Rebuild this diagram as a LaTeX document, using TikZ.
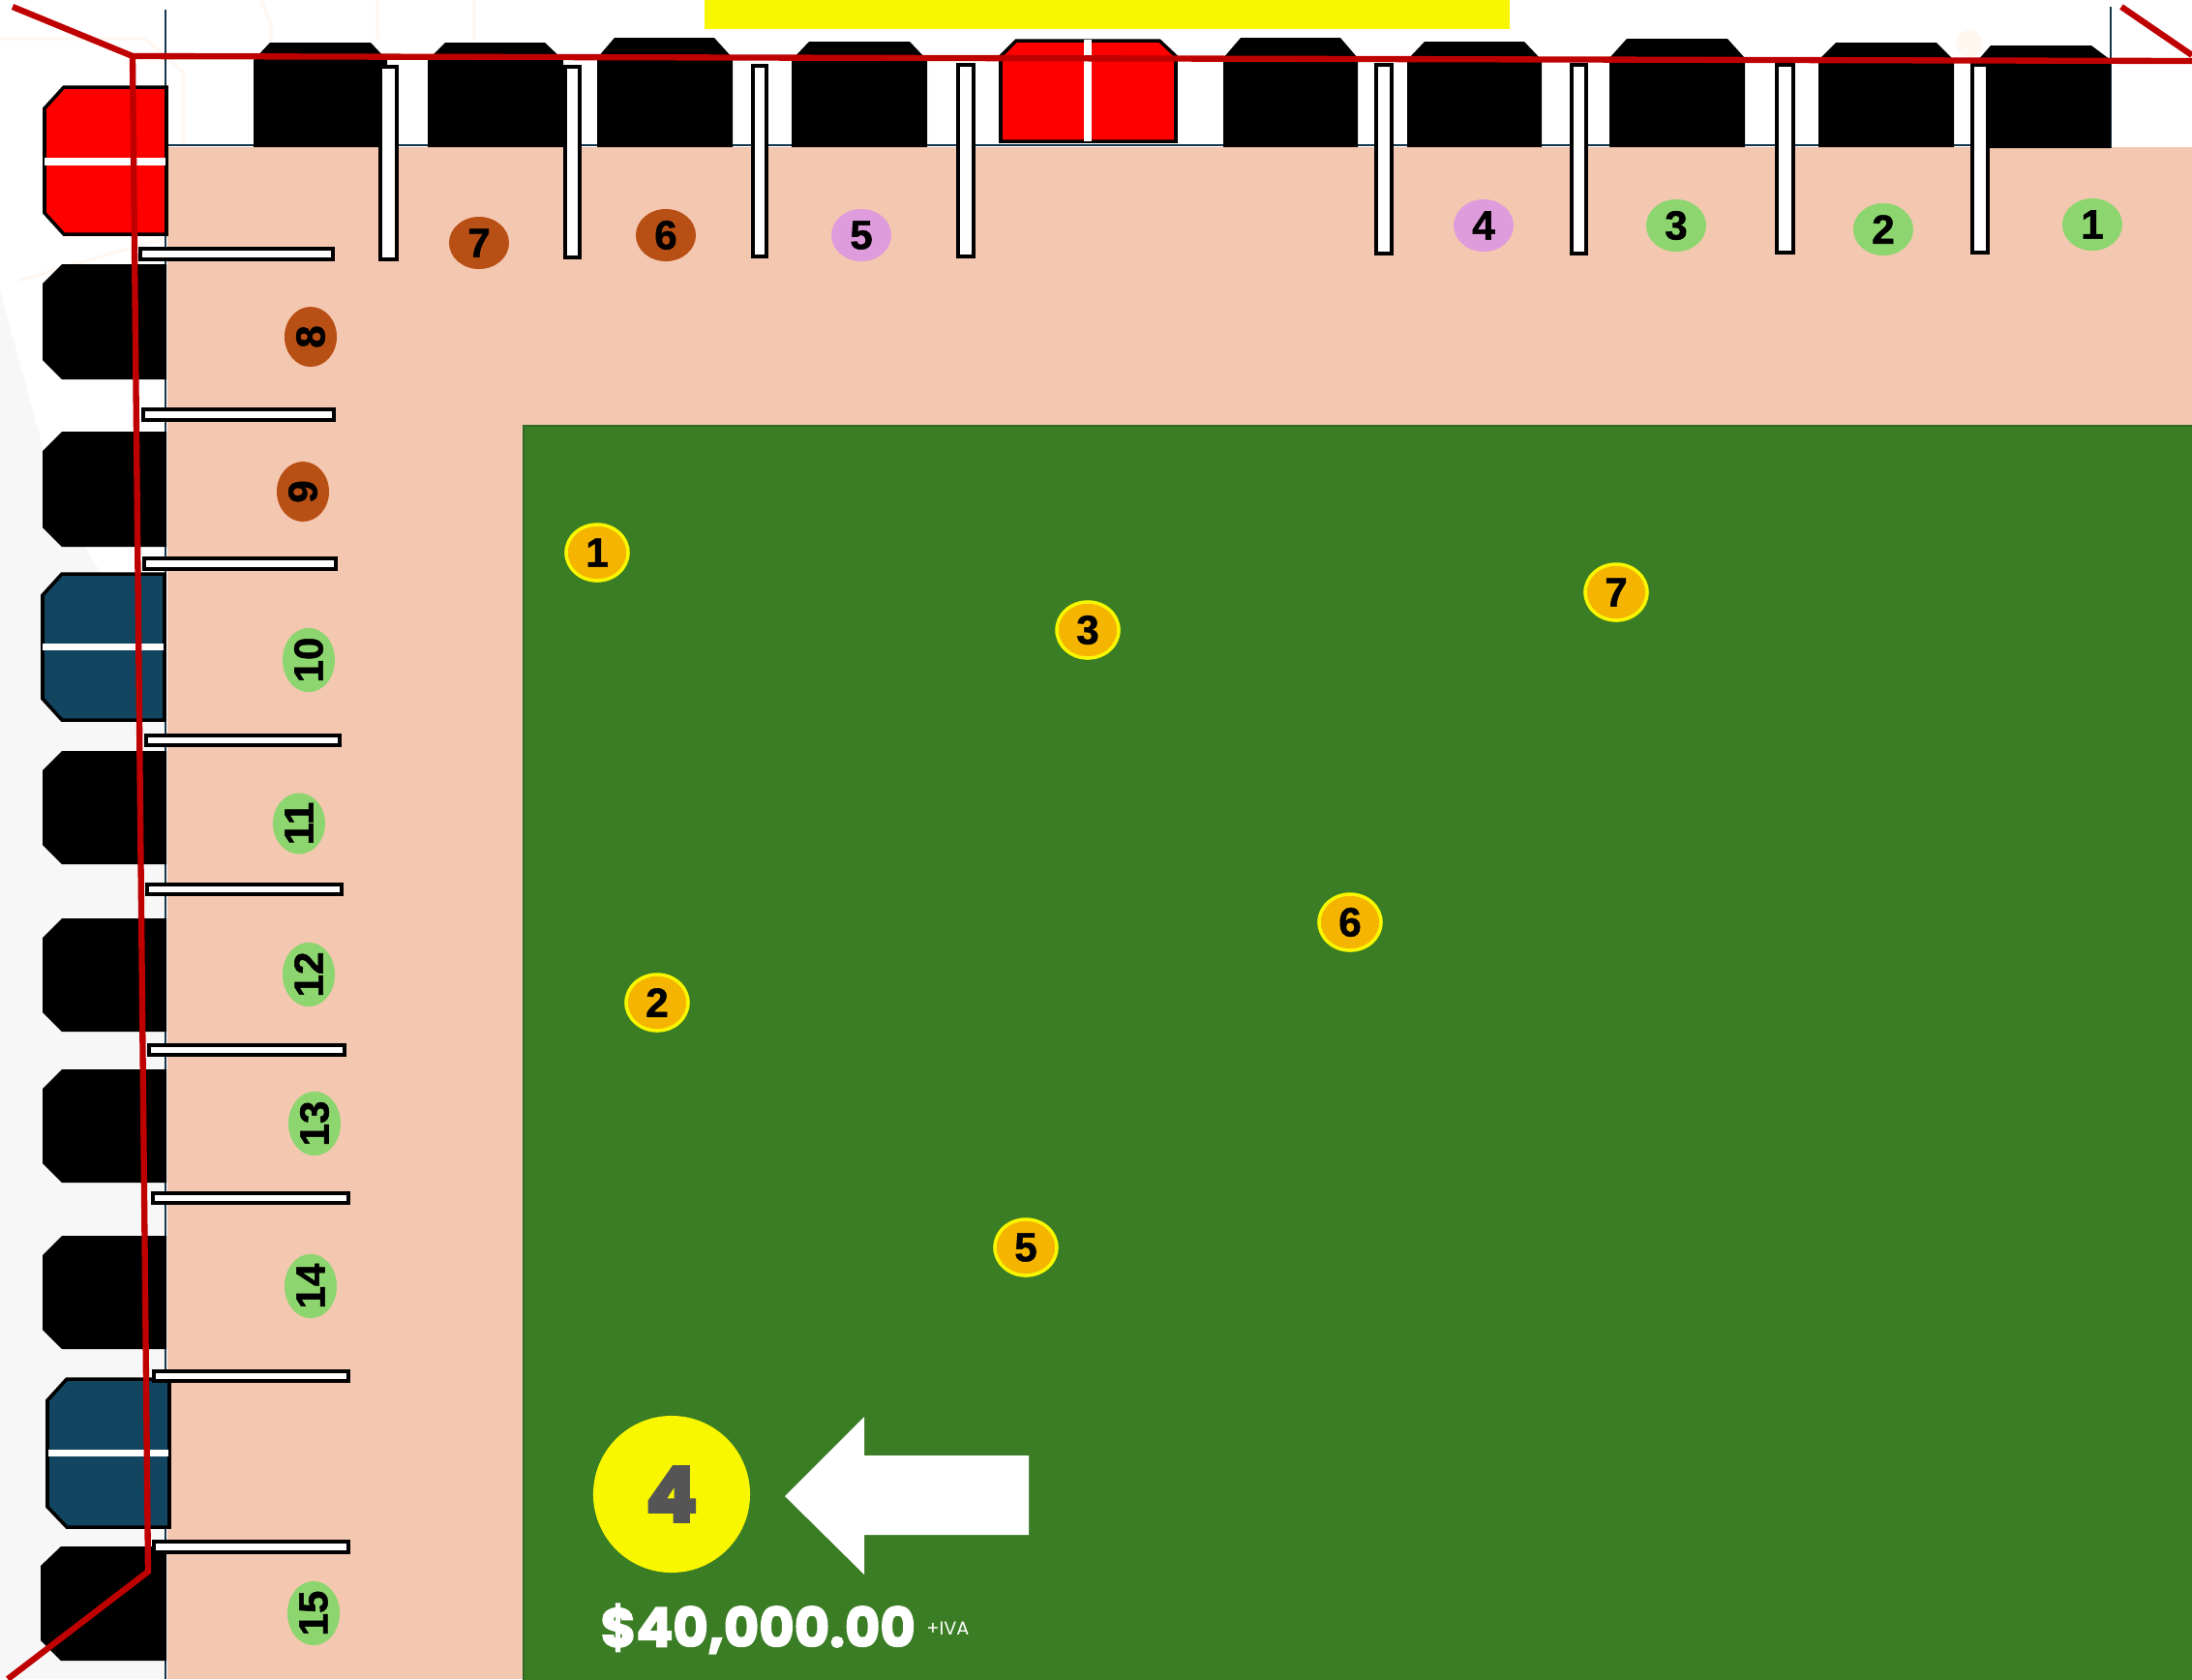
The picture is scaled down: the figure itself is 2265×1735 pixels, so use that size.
\documentclass[tikz,border=0pt]{standalone}
\usepackage{fontspec}
\usepackage{xcolor}
\usepackage{tikz}
\usetikzlibrary{positioning, shapes.geometric}
\newfontfamily\badgefont[BoldFeatures={FakeBold=1.2}]{Liberation Sans}
\newfontfamily\pricefont[BoldFeatures={FakeBold=3}]{Poppins}
\newfontfamily\bigfont[BoldFeatures={FakeBold=5}]{Poppins}
\definecolor{lot_peach}{HTML}{F4C7B0}
\definecolor{lot_green}{HTML}{3A7D24}
\definecolor{lot_edge}{HTML}{2F6A25}
\definecolor{lot_navy}{HTML}{12455F}
\definecolor{lot_line}{HTML}{16384C}
\definecolor{lot_red}{HTML}{BF0000}
\definecolor{lot_yellow}{HTML}{F8F700}
\definecolor{lot_gold}{HTML}{F5B400}
\definecolor{lot_brown}{HTML}{B84F14}
\definecolor{lot_lilac}{HTML}{DF9CDC}
\definecolor{lot_mint}{HTML}{8DD66F}
\definecolor{lot_gray}{HTML}{555555}

\begin{document}
\begin{tikzpicture}[
        x=0.01cm, y=-0.01cm,
        faint/.style={draw=orange!6, line width=0.9pt},
        bay/.style={fill=black},
        redbay/.style={fill=red, draw=black, line width=1pt},
        navybay/.style={fill=lot_navy, draw=black, line width=1pt},
        split/.style={draw=white, line width=2pt},
        bar/.style={fill=white, draw=black, line width=1pt},
        sidebar/.style={bar, line width=1.25pt},
        rope/.style={draw=lot_red, line width=1.8pt},
        edge/.style={draw=lot_line, line width=0.8pt},
        numtop/.style={ellipse, minimum width=0.62cm, minimum height=0.54cm, inner sep=0pt, font=\badgefont\fontsize{12}{12}\selectfont\bfseries},
        numside/.style={numtop, rotate=90},
        sold/.style={fill=lot_brown},
        held/.style={fill=lot_lilac},
        free/.style={fill=lot_mint},
        tree/.style={ellipse, fill=lot_gold, draw=lot_yellow, line width=1pt, minimum width=0.64cm, minimum height=0.58cm, inner sep=0pt, font=\badgefont\fontsize{12}{12}\selectfont\bfseries},
    ]
        \useasboundingbox (0,0) rectangle (2265,1735);
        \fill[white] (0,0) rectangle (2265,1735);

        % Faint backdrop
        \fill[black!3] (0,300) -- (60,520) -- (170,700) -- (170,1735) -- (0,1735) -- cycle;
        \draw[faint] (0,40) -- (150,40) -- (190,75) -- (190,240) -- (20,290);
        \draw[faint] (270,0) -- (280,25) -- (280,60);
        \draw[faint] (390,0) -- (390,40);
        \draw[faint] (490,0) -- (490,40);
        \fill[orange!6] (2035,45) circle (14);

        % Ground
        \fill[lot_peach] (173,152) rectangle (2265,1735);
        \fill[lot_green, draw=lot_edge, line width=0.8pt] (541,440) rectangle (2270,1740);
        \draw[edge] (171,10) -- (171,1735);
        \draw[edge] (171,150) -- (2181,150);
        \draw[edge] (2181,7) -- (2181,153);
        \fill[lot_yellow] (728,0) rectangle (1560,30);

        % Top bays
        \fill[bay] (262,62) -- (279,44) -- (383,44) -- (400,62) -- (400,152) -- (262,152) -- cycle;
        \fill[bay] (442,62) -- (460,44) -- (563,44) -- (582,62) -- (582,152) -- (442,152) -- cycle;
        \fill[bay] (617,60) -- (635,39) -- (738,39) -- (757,60) -- (757,152) -- (617,152) -- cycle;
        \fill[bay] (818,62) -- (836,43) -- (940,43) -- (958,62) -- (958,152) -- (818,152) -- cycle;
        \draw[redbay] (1034,58) -- (1050,42) -- (1198,42) -- (1215,58) -- (1215,146) -- (1034,146) -- cycle;
        \draw[split] (1124,41) -- (1124,146);
        \fill[bay] (1264,60) -- (1282,39) -- (1385,39) -- (1403,60) -- (1403,152) -- (1264,152) -- cycle;
        \fill[bay] (1454,62) -- (1472,43) -- (1575,43) -- (1593,62) -- (1593,152) -- (1454,152) -- cycle;
        \fill[bay] (1663,60) -- (1681,40) -- (1785,40) -- (1803,60) -- (1803,152) -- (1663,152) -- cycle;
        \fill[bay] (1879,62) -- (1897,44) -- (2001,44) -- (2019,62) -- (2019,152) -- (1879,152) -- cycle;
        \fill[bay] (2044,62) -- (2057,47) -- (2161,47) -- (2181,62) -- (2181,153) -- (2044,153) -- cycle;

        % Left bays
        \draw[redbay] (46,112) -- (66,90) -- (172,90) -- (172,242) -- (66,242) -- (46,220) -- cycle;
        \draw[split] (46,167) -- (171,167);
        \fill[bay] (44,293) -- (64,273) -- (172,273) -- (172,392) -- (64,392) -- (44,372) -- cycle;
        \fill[bay] (44,466) -- (64,446) -- (172,446) -- (172,565) -- (64,565) -- (44,545) -- cycle;
        \draw[navybay] (44,615) -- (64,593) -- (170,593) -- (170,744) -- (64,744) -- (44,722) -- cycle;
        \draw[split] (44,668) -- (169,668);
        \fill[bay] (44,796) -- (64,776) -- (172,776) -- (172,893) -- (64,893) -- (44,873) -- cycle;
        \fill[bay] (44,969) -- (64,949) -- (172,949) -- (172,1066) -- (64,1066) -- (44,1046) -- cycle;
        \fill[bay] (44,1125) -- (64,1105) -- (172,1105) -- (172,1222) -- (64,1222) -- (44,1202) -- cycle;
        \fill[bay] (44,1297) -- (64,1277) -- (172,1277) -- (172,1394) -- (64,1394) -- (44,1374) -- cycle;
        \draw[navybay] (49,1447) -- (69,1425) -- (175,1425) -- (175,1578) -- (69,1578) -- (49,1557) -- cycle;
        \draw[split] (50,1501) -- (174,1501);
        \fill[bay] (42,1618) -- (63,1598) -- (172,1598) -- (172,1716) -- (63,1716) -- (42,1695) -- cycle;

        % Dividers
        \draw[bar] (393,69) rectangle (410,268);
        \draw[bar] (584,69) rectangle (599,266);
        \draw[bar] (778,68) rectangle (792,265);
        \draw[bar] (990,67) rectangle (1006,265);
        \draw[bar] (1422,67) rectangle (1438,262);
        \draw[bar] (1624,67) rectangle (1639,262);
        \draw[bar] (1836,67) rectangle (1853,261);
        \draw[bar] (2038,67) rectangle (2054,261);
        \draw[sidebar] (145,257) rectangle (344,268);
        \draw[sidebar] (148,423) rectangle (345,434);
        \draw[sidebar] (149,577) rectangle (347,588);
        \draw[sidebar] (151,760) rectangle (351,770);
        \draw[sidebar] (152,914) rectangle (353,924);
        \draw[sidebar] (154,1080) rectangle (356,1090);
        \draw[sidebar] (158,1233) rectangle (360,1243);
        \draw[sidebar] (159,1417) rectangle (360,1427);
        \draw[sidebar] (159,1593) rectangle (360,1604);

        % Boundary
        \coordinate (r1) at (13,7);
        \coordinate (r2) at (137,58);
        \coordinate (r3) at (2265,63);
        \coordinate (r4) at (153,1624);
        \coordinate (r5) at (8,1735);
        \coordinate (r6) at (2192,7);
        \coordinate (r7) at (2265,57);
        \draw[rope] (r1) -- (r2) -- (r3);
        \draw[rope] (r2) -- (r4) -- (r5);
        \draw[rope] (r6) -- (r7);

        % Top numbers
        \node[numtop, sold] (s7) at (495,251) {7};
        \node[numtop, sold] (s6) at (688,243) {6};
        \node[numtop, held] (s5) at (890,243) {5};
        \node[numtop, held] (s4) at (1533,233) {4};
        \node[numtop, free] (s3) at (1732,233) {3};
        \node[numtop, free] (s2) at (1946,237) {2};
        \node[numtop, free] (s1) at (2162,232) {1};

        % Side numbers
        \node[numside, sold] (s8) at (321,348) {8};
        \node[numside, sold] (s9) at (313,508) {9};
        \node[numside, free] (s10) at (319,682) {10};
        \node[numside, free] (s11) at (309,851) {11};
        \node[numside, free] (s12) at (319,1007) {12};
        \node[numside, free] (s13) at (325,1161) {13};
        \node[numside, free] (s14) at (321,1329) {14};
        \node[numside, free] (s15) at (324,1667) {15};

        % Field numbers
        \node[tree] (t1) at (617,571) {1};
        \node[tree] (t2) at (679,1036) {2};
        \node[tree] (t3) at (1124,651) {3};
        \node[tree] (t5) at (1060,1289) {5};
        \node[tree] (t6) at (1395,953) {6};
        \node[tree] (t7) at (1670,612) {7};

        % Price tag
        \node[circle, fill=lot_yellow, minimum size=1.62cm, inner sep=0pt, text=lot_gray, font=\bigfont\fontsize{22}{22}\selectfont\bfseries] (big) at (694,1544) {4};
        \fill[white] (811,1546) -- (893,1464) -- (893,1504) -- (1063,1504) -- (1063,1586) -- (893,1586) -- (893,1627) -- cycle;
        \node[anchor=west, inner sep=0pt, text=white, font=\pricefont\fontsize{15.9}{15.9}\selectfont\bfseries] (price) at (620,1683) {\$40,000.00};
        \node[right=0.1cm of price, inner sep=0pt, text=white, font=\pricefont\fontsize{5.5}{5.5}\selectfont] (iva) {+IVA};
    \end{tikzpicture}
\end{document}
